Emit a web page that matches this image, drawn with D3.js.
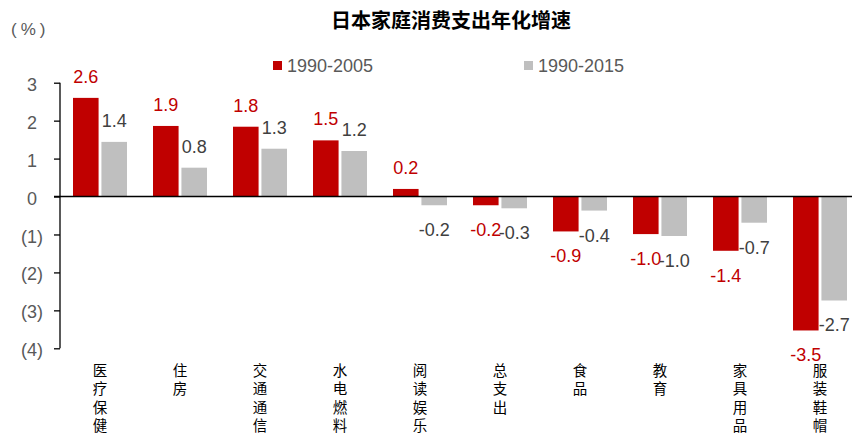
<!DOCTYPE html>
<html><head><meta charset="utf-8">
<script src="https://cdn.jsdelivr.net/npm/d3@7/dist/d3.min.js"></script>
<style>body{margin:0;background:#fff}svg{display:block}</style>
</head><body>
<svg id="c" width="852" height="435"></svg>
<script>
const categories = ["医疗保健","住房","交通通信","水电燃料","阅读娱乐","总支出","食品","教育","家具用品","服装鞋帽"];
const seriesNames = ["1990-2005","1990-2015"];
const values2005 = [2.60,1.86,1.84,1.48,0.20,-0.23,-0.92,-0.99,-1.43,-3.53];
const values2015 = [1.44,0.76,1.26,1.20,-0.23,-0.31,-0.37,-1.04,-0.69,-2.74];
const yTicks = [3,2,1,0,-1,-2,-3,-4];
const title = "日本家庭消费支出年化增速";
const unitLabel = "(%)";

const colors = ["#C00000","#BFBFBF"];
const labelColors = ["#C00000","#404040"];
const svg = d3.select("#c");
const latin = "Arial, 'Liberation Sans', sans-serif";
const cjk = "'Noto Sans CJK SC', sans-serif";
const fmt = v => d3.format(".1f")(v).replace("\u2212","-");

const y = d3.scaleLinear().domain([-4,3]).range([348.3,82.7]);
const x0 = d3.scaleBand().domain(categories).range([60,860]).paddingInner(0.325).paddingOuter(0.1625);
const x1 = d3.scaleBand().domain([0,1]).range([0,x0.bandwidth()]).paddingInner(0.1);

const data = categories.map((c,i)=>({cat:c, vals:[values2005[i], values2015[i]]}));

// title
svg.append("text").attr("x",451).attr("y",28).attr("text-anchor","middle")
  .attr("font-family",cjk).attr("font-weight","bold").attr("font-size",20).attr("fill","#000")
  .text(title);
svg.append("text").attr("x",11).attr("y",35)
  .attr("font-family",latin).attr("font-size",17).attr("letter-spacing",4).attr("fill","#595959").text(unitLabel);

// legend
const legX = [273, 524];
seriesNames.forEach((s,i)=>{
  svg.append("rect").attr("x",legX[i]).attr("y",61).attr("width",9).attr("height",9).attr("fill",colors[i]);
  svg.append("text").attr("x",legX[i]+14).attr("y",72).attr("font-family",latin).attr("font-size",18)
    .attr("fill","#595959").text(s);
});

// bars
const g = svg.append("g");
data.forEach(d=>{
  d.vals.forEach((v,j)=>{
    const bx = x0(d.cat)+x1(j);
    g.append("rect").attr("x",bx).attr("width",x1.bandwidth())
      .attr("y",Math.min(y(v),y(0))).attr("height",Math.abs(y(v)-y(0)))
      .attr("fill",colors[j]);
    g.append("text").attr("x",bx+x1.bandwidth()/2)
      .attr("y", v>=0 ? y(v)-15 : y(v)+31)
      .attr("text-anchor","middle").attr("font-family",latin).attr("font-size",18)
      .attr("fill",labelColors[j]).text(fmt(v));
  });
});

// y axis
const yAxis = d3.axisLeft(y).tickValues(yTicks).tickSize(6).tickPadding(0)
  .tickFormat(v=> v<0 ? "("+Math.abs(v)+")" : String(v));
const ya = svg.append("g").attr("transform","translate(60,0)").call(yAxis);
ya.select(".domain").attr("stroke","#000").attr("stroke-width",1.3)
  .attr("d",`M0,${y(3)}V${y(-4)}`);
ya.selectAll(".tick line").attr("stroke","#000").attr("stroke-width",1.3);
ya.selectAll(".tick text").attr("font-family",latin).attr("font-size",18).attr("fill","#595959")
  .attr("x",d=> d<0 ? -17 : -23).attr("dy","0.42em");

// zero line
svg.append("line").attr("x1",54).attr("x2",852).attr("y1",y(0)).attr("y2",y(0))
  .attr("stroke","#000").attr("stroke-width",1.5);

// category labels (vertical stacked)
categories.forEach(c=>{
  const t = svg.append("text").attr("text-anchor","middle").attr("font-family",cjk)
    .attr("font-size",14.5).attr("fill","#000");
  Array.from(c).forEach((ch,k)=>{
    t.append("tspan").attr("x",x0(c)+x0.bandwidth()/2).attr("y",376+k*18.3).text(ch);
  });
});
</script>
</body></html>
